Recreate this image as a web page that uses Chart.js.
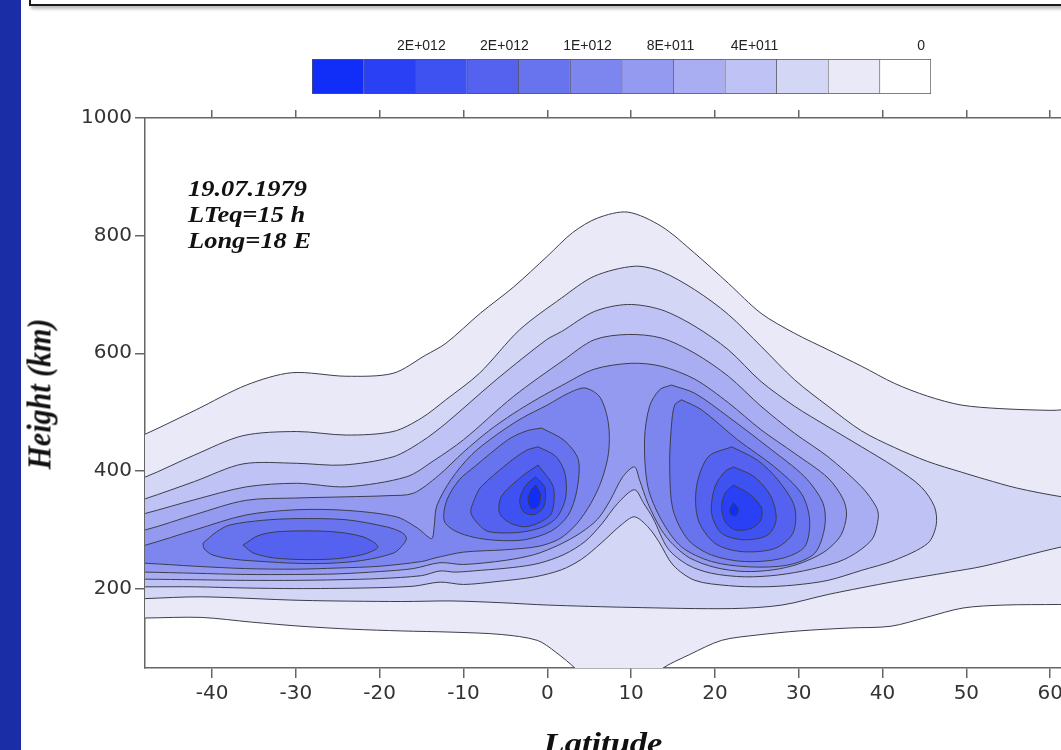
<!DOCTYPE html>
<html>
<head>
<meta charset="utf-8">
<script src="https://cdn.jsdelivr.net/npm/chart.js@4.4.1/dist/chart.umd.min.js"></script>
<style>
  html, body { margin: 0; padding: 0; width: 1061px; height: 750px; overflow: hidden; background: #fff; }
  #plot { position: absolute; left: 0; top: 0; }
  #scaleBar { position: absolute; left: 312px; top: 20px; }
  .strip { position: absolute; left: 0; top: 0; width: 21px; height: 750px; background: #1a2da6; }
  .frame { position: absolute; left: 29px; top: -20px; width: 1100px; height: 22px; border: 2px solid #1a1a1a; box-shadow: 2px 3px 3px #bdbdbd; }
  .note { position: absolute; left: 188px; top: 176px; font: bold italic 23px/26px "Liberation Serif", "Times New Roman", serif;
          transform: scaleX(1.15); transform-origin: 0 0; white-space: nowrap; color: #111; }
  .ytitle { position: absolute; left: 39px; top: 394px; font: bold italic 30px/30px "Liberation Serif", "Times New Roman", serif;
            transform: translate(-50%, -50%) rotate(-90deg) scaleY(1.15); white-space: nowrap; color: #111; }
  .xtitle { position: absolute; left: 603px; top: 728px; font: bold italic 30px/30px "Liberation Serif", "Times New Roman", serif;
            transform: translateX(-50%) scaleX(1.15); white-space: nowrap; color: #111; }
</style>
</head>
<body>
<canvas id="plot" width="1134" height="750"></canvas>
<canvas id="scaleBar" width="619" height="74"></canvas>
<div class="strip"></div>
<div class="frame"></div>
<div class="note">19.07.1979<br>LTeq=15 h<br>Long=18 E</div>
<div class="ytitle">Height (km)</div>
<div class="xtitle">Latitude</div>

<script>
// fill colour for each contour level, 0 = below the lowest contour
const levelColors = ['#ffffff', '#e9e9f8', '#d4d6f6', '#bfc2f4', '#a9aef2', '#949af0',
                     '#7d86ee', '#6873ee', '#5462ef', '#3e51f1', '#2a40f4', '#102ef8'];

const latTicks = [-40, -30, -20, -10, 0, 10, 20, 30, 40, 50, 60];
const heightTicks = [200, 400, 600, 800, 1000];

// colour scale labels and where they sit along the 12 cells
const scaleTickPos = [2.12, 3.73, 5.34, 6.95, 8.58, 11.81];
const scaleTickText = ['2E+012', '2E+012', '1E+012', '8E+011', '4E+011', '0'];

// contour outlines as [latitude, height km]
const lv1Band = [[-50,452],[-47.9,463],[-41.9,504],[-35.9,546],[-30.5,567],[-24,561],[-18.4,566],[-14.5,597],[-12.1,617],
  [-8,668],[-4,713],[0,765],[3,805],[6,830],[9.6,840],[13.6,816],[17.6,770],[21.6,719],[25.5,668],[29.5,634],[33.5,606],
  [37.5,578],[41.4,549],[45.4,527],[49.4,512],[54,506],[60,503],[72,501],
  [72,176],[61,173],[54.5,172],[49.6,167],[45.2,151],[41,136],[36,133],[30,128],[25,121],[20.8,112],[17,88],[13.5,62],
  [12,35],[5,35],[3.5,62],[1,92],[-1.2,112],[-5.5,122],[-11.5,126],[-17.4,128],[-23.4,131],[-29.4,136],[-35.3,143],
  [-41.3,151],[-47.9,150],[-50,150]];

const lv2Band = [[-50,382],[-47.9,390],[-42.1,427],[-36.3,460],[-29.9,467],[-24,461],[-18.4,467],[-15,490],[-12.1,521],
  [-8.1,566],[-3.3,640],[1.7,694],[5.6,731],[10.4,748],[13.6,739],[17.6,708],[21.6,666],[25.5,612],[29.5,555],[33.5,510],
  [37.5,468],[41.4,440],[45.4,416],[49.4,398],[52.2,386],[56,371],[61.4,356],[72,335],
  [72,300],[61.4,271],[52,238],[48,228],[41.4,212],[33.5,190],[28,172],[22,166],[10,168],[0,172],[-5.5,176],[-11.5,179],
  [-17.4,178],[-29.4,180],[-41.3,186],[-47.9,183],[-50,182]];

const lv3Band = [[-50,345],[-47.9,353],[-42.1,382],[-36.3,412],[-29.9,413],[-24.4,410],[-18.4,424],[-15,450],[-12.1,481],
  [-6.1,555],[-0.1,623],[1.7,637],[5.6,671],[9.6,683],[13.6,674],[17.6,646],[21.6,606],[25.5,552],[29.5,510],[33.5,475],
  [37.5,441],[41.4,407],[44.6,373],[46.2,339],[46.4,308],
  [45.4,277],[41.4,248],[37.5,231],[33.5,214],[29.5,206],[25.5,203],[21.6,205],[17.6,214],[15,240],[13.3,280],[12,305],
  [10.4,322],[8.8,308],[6.4,277],[4.1,250],[1.7,232],[-1.5,220],[-6,212],[-10,207],[-12.8,211],[-16,204],[-22,201],
  [-30,200],[-36,201],[-42,203],[-47.9,203],[-50,203]];

const lv4Band = [[-50,322],[-47.9,328],[-42.1,351],[-35.9,373],[-29.9,379],[-24,373],[-16.8,390],[-13.5,418],[-10,453],
  [-4,527],[2,589],[5.6,623],[9.6,632],[13.6,626],[17.6,600],[21.6,561],[25.5,510],[29.5,464],[33.5,424],[37.5,373],
  [39.2,340],[39.5,322],
  [38.7,283],[35.5,250],[31.5,233],[27.5,223],[23.5,220],[19.6,226],[16.8,240],[14.4,268],[12.6,320],[11.5,345],
  [10.4,368],[8.4,345],[6.5,310],[4.5,280],[2,258],[-1,243],[-4,236],[-8,231],[-11,228],[-12.8,230],[-15,222],[-20,217],
  [-25,215],[-30,214],[-36,214],[-42,215],[-47.9,216],[-50,216]];

const lv5Band = [[-50,297],[-47.9,300],[-42,326],[-36,350],[-30,354],[-24,356],[-19,358],[-16,362],[-13,392],[-10,432],
  [-7,468],[-4,498],[-1,524],[1.7,545],[5.6,573],[10,583],[13.6,578],[17.6,556],[21.6,516],[25.5,470],[29.5,430],
  [33.5,388],[35.3,352],[35.7,325],
  [35,290],[33,262],[30,242],[27,232],[23.5,229],[20,236],[17,252],[15,275],[13.6,300],[12,345],[11,385],[10.4,407],
  [9,390],[7.5,350],[6,318],[4,295],[1.5,275],[-1.5,258],[-5,248],[-10,241],[-12.8,244],[-16,234],[-20,229],[-25,225],
  [-30,224],[-36,224],[-42,226],[-47.9,228],[-50,228]];

const lv6West = [[-50,268],[-47.9,274],[-42,300],[-36,325],[-30,334],[-24,333],[-18,322],[-15.5,303],[-13.8,285],
  [-13.5,305],[-13.2,340],[-11.5,385],[-9,428],[-6,462],[-3,490],[0,512],[2.5,532],[4.5,541],[6.3,525],[7.3,480],
  [7.3,430],[6.5,385],[5.2,345],[3.5,310],[1.5,285],[-1,272],[-5,266],[-10,262],[-13.4,252],[-15,246],[-20,238],
  [-25,235],[-30,233],[-36,234],[-42,238],[-47.9,243],[-50,243]];
const lv6East = [[14.8,546],[17.6,532],[21.6,492],[26.3,441],[30.7,390],[32.9,345],[33.1,305],[31.9,260],[28.7,240],
  [24,237],[19.6,246],[16,271],[13.6,317],[12,373],[11.6,453],[12.2,510],[13.4,538]];

const lv7West = [[-41.1,277],[-39.5,296],[-37.9,308],[-34,316],[-29.9,319],[-24,317],[-19.2,305],[-17.3,295],[-16.8,285],
  [-17.5,270],[-18.4,260],[-22,248],[-26,243],[-30,243],[-33.9,246],[-37.5,250],[-39.9,257],[-40.9,267]];
const lv7Mid = [[-0.7,473],[2,452],[3.7,419],[3.5,365],[2.5,325],[0.5,298],[-2.7,283],[-6,282],[-8.7,287],[-11,298],
  [-12.3,315],[-12,350],[-10.5,385],[-8.7,407],[-4.7,453],[-2.5,468]];
const lv7East = [[16,521],[18.4,504],[22.7,453],[27.1,407],[30.3,362],[31.3,317],[30.7,271],[27.9,251],[23.5,246],
  [19.6,257],[16.8,283],[15,334],[14.6,407],[14.8,475],[15.2,512]];

const lv8West = [[-36.3,274],[-34.5,290],[-31.9,297],[-25.9,297],[-22,288],[-20.2,271],[-22,258],[-25.9,250],[-31.9,251],[-35,260]];
const lv8Mid = [[-1.1,441],[1,425],[2.1,396],[2.2,355],[1.2,322],[-0.5,305],[-3.1,296],[-6,295],[-7.5,300],[-9.1,328],
  [-8.6,355],[-7.9,373],[-4.7,413],[-2.5,435]];
const lv8East = [[22,441],[25.1,418],[27.5,385],[29.5,339],[29.3,294],[27.1,268],[23.1,263],[20,277],[18,317],[17.8,373],[19.2,424]];

const lv9Mid = [[-1.1,410],[0.7,373],[0.5,328],[-1,312],[-2.7,305],[-4.5,312],[-5.7,328],[-5.5,356],[-3.1,390]];
const lv9East = [[22.2,407],[24.7,390],[26.7,356],[27.3,317],[26.3,291],[23.5,283],[20.8,294],[19.6,328],[20,373],[21.2,399]];

const lv10Mid = [[-1.4,390],[-0.3,372],[-0.4,340],[-1.5,326],[-2.8,330],[-3.3,350],[-2.6,375]];
const lv10East = [[22.2,376],[24,362],[25.5,339],[25.5,317],[24.3,302],[22.4,300],[21.2,314],[20.8,339],[21.2,362]];

const lv11Mid = [[-1.4,376],[-0.8,360],[-1.1,340],[-1.9,336],[-2.3,352],[-1.9,368]];
const lv11East = [[22.2,346],[22.8,336],[22.5,324],[21.9,326],[21.8,336]];

const contourShapes = [
  [1, lv1Band], [2, lv2Band], [3, lv3Band], [4, lv4Band], [5, lv5Band],
  [6, lv6West], [6, lv6East],
  [7, lv7West], [7, lv7Mid], [7, lv7East],
  [8, lv8West], [8, lv8Mid], [8, lv8East],
  [9, lv9Mid], [9, lv9East],
  [10, lv10Mid], [10, lv10East],
  [11, lv11Mid], [11, lv11East]
];

Chart.defaults.font.family = '"DejaVu Sans", sans-serif';

// each outline is closed and filled; higher levels are painted on top
const datasets = contourShapes.map(([level, pts]) => ({
  data: pts.concat([pts[0]]).map(p => ({ x: p[0], y: p[1] })),
  showLine: true,
  fill: 'shape',
  backgroundColor: levelColors[level],
  borderColor: '#3d3d4c',
  borderWidth: 1,
  pointRadius: 0,
  tension: 0.3,
  clip: 0,
  order: 20 - level
}));

const axisLine = { color: '#666', width: 1.5 };
const setLatTicks = scale => { scale.ticks = latTicks.map(v => ({ value: v })); };
const plainLabel = v => String(v);

new Chart(document.getElementById('plot'), {
  type: 'scatter',
  data: { datasets: datasets },
  options: {
    responsive: false,
    animation: false,
    layout: { padding: 0 },
    elements: { line: { capBezierPoints: false } },
    plugins: { legend: { display: false }, tooltip: { enabled: false } },
    scales: {
      x: {
        type: 'linear', position: 'bottom', min: -48, max: 70, z: 1,
        afterBuildTicks: setLatTicks,
        afterFit: s => { s.height = 82; },
        border: axisLine,
        grid: { drawOnChartArea: false, color: '#666', lineWidth: 1.5, tickLength: 10 },
        ticks: { color: '#333', padding: 4, autoSkip: false, maxRotation: 0, font: { size: 20 }, callback: plainLabel }
      },
      xTop: {
        type: 'linear', position: 'top', min: -48, max: 70, z: 1,
        afterBuildTicks: setLatTicks,
        afterFit: s => { s.height = 118; },
        border: axisLine,
        grid: { drawOnChartArea: false, color: '#666', lineWidth: 1.5, tickLength: 8 },
        ticks: { display: false }
      },
      y: {
        type: 'linear', position: 'left', min: 65, max: 1000, z: 1,
        afterBuildTicks: s => { s.ticks = heightTicks.map(v => ({ value: v })); },
        afterFit: s => { s.width = 145; },
        border: axisLine,
        grid: { drawOnChartArea: false, color: '#666', lineWidth: 1.5, tickLength: 10 },
        ticks: { color: '#333', padding: 3, font: { size: 20 }, callback: plainLabel }
      }
    }
  }
});

// colour scale: 12 stacked cells, darkest on the left
const cellColors = levelColors.slice().reverse();
new Chart(document.getElementById('scaleBar'), {
  type: 'bar',
  data: {
    labels: [''],
    datasets: cellColors.map((c, i) => ({
      data: [1],
      backgroundColor: c,
      borderColor: '#555',
      borderWidth: { left: 1, top: 1, bottom: 1, right: i === cellColors.length - 1 ? 1 : 0 },
      borderSkipped: false,
      barPercentage: 1,
      categoryPercentage: 1
    }))
  },
  options: {
    indexAxis: 'y',
    responsive: false,
    animation: false,
    layout: { padding: 0 },
    plugins: { legend: { display: false }, tooltip: { enabled: false } },
    scales: {
      x: {
        stacked: true, position: 'top', min: 0, max: 12,
        afterBuildTicks: s => { s.ticks = scaleTickPos.map(v => ({ value: v })); },
        afterFit: s => { s.height = 39; },
        grid: { display: false, drawTicks: false },
        border: { display: false },
        ticks: {
          autoSkip: false, maxRotation: 0, padding: 4, color: '#222',
          font: { family: '"Liberation Sans", Arial, sans-serif', size: 14 },
          callback: (v, i) => scaleTickText[i]
        }
      },
      y: { stacked: true, display: false }
    }
  }
});
</script>
</body>
</html>
